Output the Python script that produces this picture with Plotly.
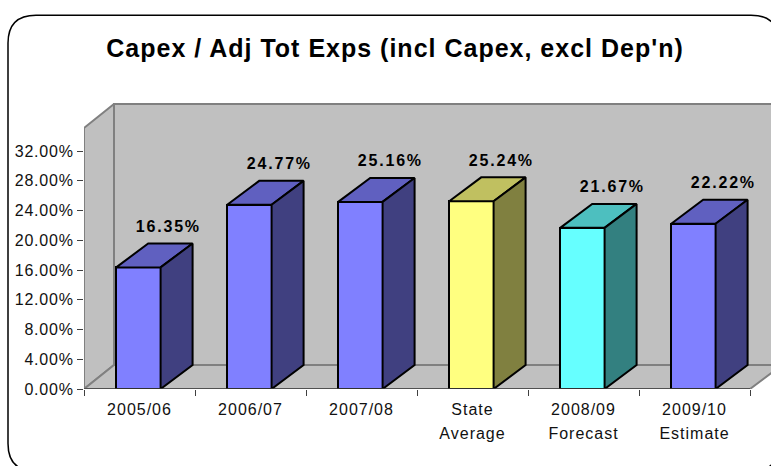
import plotly.graph_objects as go

categories = ["2005/06", "2006/07", "2007/08", "State<br>Average", "2008/09<br>Forecast", "2009/10<br>Estimate"]
values = [16.35, 24.77, 25.16, 25.24, 21.67, 22.22]
labels = ["16.35%", "24.77%", "25.16%", "25.24%", "21.67%", "22.22%"]
y_ticks = [0, 4, 8, 12, 16, 20, 24, 28, 32]
y_ticklabels = ["0.00%", "4.00%", "8.00%", "12.00%", "16.00%", "20.00%", "24.00%", "28.00%", "32.00%"]
front_colors = ["#8080FF", "#8080FF", "#8080FF", "#FFFF80", "#66FFFF", "#8080FF"]
top_colors = ["#6060C0", "#6060C0", "#6060C0", "#C0C060", "#4DBFBF", "#6060C0"]
side_colors = ["#404080", "#404080", "#404080", "#808040", "#338080", "#404080"]

W, H = 771, 466
L, B, T = 84, 76.5, 103
CAT_PX = 111.0
PCT_PX = 7.45
BAR_W = 0.4
DX = 32 / CAT_PX
WALL_DX = 30 / CAT_PX
DY = 24 / PCT_PX
WALL_TOP = 35.1
x_max = (W - L) / CAT_PX
y_max = (H - B - T) / PCT_PX

fig = go.Figure()

fig.add_trace(go.Bar(x=[i + 0.49 for i in range(6)], y=values, width=BAR_W,
                     marker=dict(color=front_colors, line=dict(color="black", width=2)),
                     hoverinfo="skip", showlegend=False))

for i, v in enumerate(values):
    xl = i + 0.49 - BAR_W / 2
    xr = i + 0.49 + BAR_W / 2
    fig.add_trace(go.Scatter(x=[xl, xr, xr + DX, xl + DX, xl], y=[v, v, v + DY, v + DY, v],
                             mode="lines", fill="toself", fillcolor=top_colors[i],
                             line=dict(color="black", width=2), hoverinfo="skip", showlegend=False))
    fig.add_trace(go.Scatter(x=[xr, xr + DX, xr + DX, xr, xr], y=[v, v + DY, DY, 0, v],
                             mode="lines", fill="toself", fillcolor=side_colors[i],
                             line=dict(color="black", width=2), hoverinfo="skip", showlegend=False))

fig.add_trace(go.Scatter(x=[i + 0.5 + 0.26 for i in range(6)], y=[v + DY + 2.1 for v in values],
                         mode="text", text=labels, textposition="middle center",
                         textfont=dict(family="Liberation Sans", size=16, color="black", weight="bold"),
                         hoverinfo="skip", showlegend=False))

fig.add_trace(go.Scatter(x=[0, 6], y=[0, 0], mode="lines", line=dict(color="#404040", width=1.5),
                         hoverinfo="skip", showlegend=False))


def poly(pts):
    return "M " + " L ".join(f"{a},{b}" for a, b in pts) + " Z"


wall_line = dict(color="#808080", width=2)
shapes = [
    dict(type="path", xref="x", yref="y", layer="below", fillcolor="#C0C0C0", line=wall_line,
         path=poly([(WALL_DX, DY), (WALL_DX, WALL_TOP + DY), (7, WALL_TOP + DY), (7, DY)])),
    dict(type="path", xref="x", yref="y", layer="below", fillcolor="#C0C0C0", line=wall_line,
         path=poly([(0, 0), (0, WALL_TOP), (WALL_DX, WALL_TOP + DY), (WALL_DX, DY)])),
    dict(type="path", xref="x", yref="y", layer="below", fillcolor="#C0C0C0", line=wall_line,
         path=poly([(0, 0), (6, 0), (6 + DX, DY), (WALL_DX, DY)])),
]


def px(a):
    return (a - L) / (W - L)


def py(b):
    return (H - B - b) / (H - B - T)


def frame(x0, y0, x1, y1, r):
    return (f"M {px(x0 + r)},{py(y0)} L {px(x1 - r)},{py(y0)} "
            f"Q {px(x1)},{py(y0)} {px(x1)},{py(y0 + r)} L {px(x1)},{py(y1 - r)} "
            f"Q {px(x1)},{py(y1)} {px(x1 - r)},{py(y1)} L {px(x0 + r)},{py(y1)} "
            f"Q {px(x0)},{py(y1)} {px(x0)},{py(y1 - r)} L {px(x0)},{py(y0 + r)} "
            f"Q {px(x0)},{py(y0)} {px(x0 + r)},{py(y0)} Z")


shapes.append(dict(type="path", xref="paper", yref="paper", layer="below",
                   line=dict(color="black", width=1.5), path=frame(8, 15, 779, 472, 28)))

fig.update_layout(
    width=W, height=H, autosize=False,
    margin=dict(l=L, r=0, t=T, b=B, pad=0),
    paper_bgcolor="white", plot_bgcolor="rgba(0,0,0,0)",
    showlegend=False, shapes=shapes, bargap=0,
    font=dict(family="Liberation Sans", color="black"),
    title=dict(text="<b>Capex / Adj Tot Exps (incl Capex, excl Dep'n)</b>",
               x=395 / W, xanchor="center", y=1 - 48 / H, yanchor="middle",
               font=dict(family="Liberation Sans", size=25, color="black")),
    xaxis=dict(range=[0, x_max], tickmode="array", tickvals=[i + 0.5 for i in range(6)], ticktext=categories,
               ticks="", showgrid=False, zeroline=False, showline=False, ticklabelstandoff=9,
               tickfont=dict(size=16, color="#111111"),
               minor=dict(tickmode="array", tickvals=list(range(7)), ticks="outside", ticklen=6,
                          tickcolor="#404040", tickwidth=1, showgrid=False)),
    yaxis=dict(range=[0, y_max], tickmode="array", tickvals=y_ticks, ticktext=y_ticklabels,
               ticks="outside", ticklen=6, tickcolor="#404040", tickwidth=1,
               showgrid=False, zeroline=False, showline=False,
               tickfont=dict(size=16, color="#111111")),
)

post = """
document.body.style.margin = '0';
function sp(sel, v) { document.querySelectorAll(sel).forEach(function (t) { t.style.letterSpacing = v; }); }
sp('.gtitle', '1px');
sp('.textpoint text', '1.8px');
sp('.ytick text', '0.8px');
sp('.xtick text', '1px');
document.querySelectorAll('.xtick text tspan.line').forEach(function (t) {
  if (parseFloat(t.getAttribute('dy')) > 0) { t.setAttribute('dy', '1.5em'); }
});
"""
fig.write_html("out.html", post_script=post, config={"displayModeBar": False})
